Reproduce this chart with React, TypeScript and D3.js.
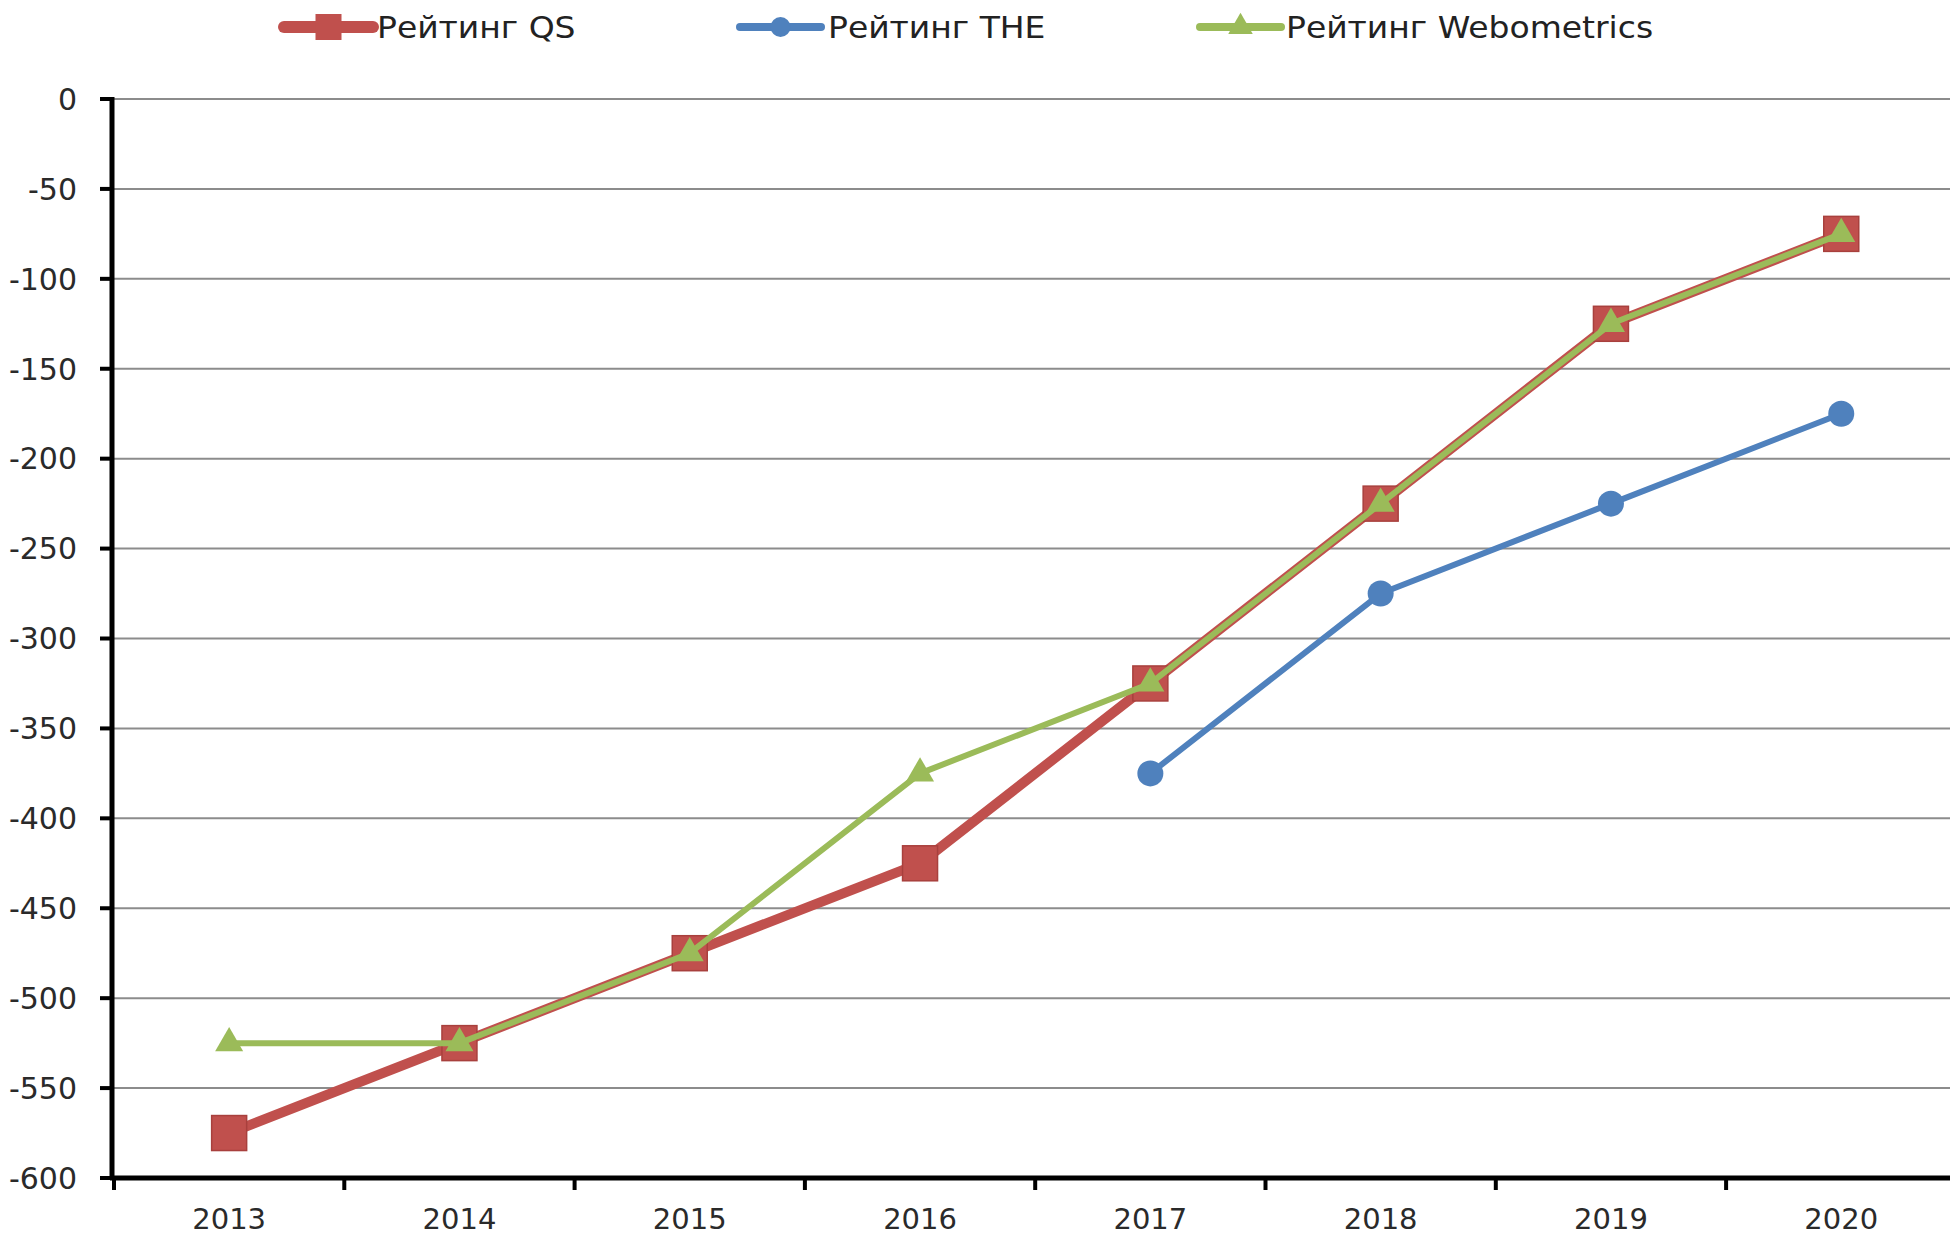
import React, { useEffect } from "react";
import * as d3 from "d3";

const years = ["2013", "2014", "2015", "2016", "2017", "2018", "2019", "2020"];
const qsValues = [-575, -525, -475, -425, -325, -225, -125, -75];
const theValues = [null, null, null, null, -375, -275, -225, -175];
const webValues = [-525, -525, -475, -375, -325, -225, -125, -75];
const yTicks = [0, -50, -100, -150, -200, -250, -300, -350, -400, -450, -500, -550, -600];

const W = 1950;
const H = 1241;
const FONT = "'DejaVu Sans', Verdana, sans-serif";

const App = () => {
  useEffect(() => {
    document.body.style.margin = "0";
  }, []);

  const margin = { top: 99, left: 112, bottom: 63 };
  const x = d3.scaleBand().domain(years).range([margin.left + 2, margin.left + 2 + 8 * 230.3]);
  const y = d3.scaleLinear().domain([-600, 0]).range([H - margin.bottom, margin.top]);
  const cx = (i) => x(years[i]) + x.bandwidth() / 2;

  const line = d3
    .line()
    .defined((d) => d != null)
    .x((d, i) => cx(i))
    .y((d) => y(d));

  const sq = 35;
  const tri = d3.symbol().type(d3.symbolTriangle).size(340);
  const triSmall = d3.symbol().type(d3.symbolTriangle).size(260);

  const legend = [
    { label: "Рейтинг QS", x0: 284, x1: 373, tx: 377, color: "#C0504D", w: 10, mark: "sq" },
    { label: "Рейтинг THE", x0: 740, x1: 821, tx: 828, color: "#4F81BD", w: 6, mark: "circ" },
    { label: "Рейтинг Webometrics", x0: 1200, x1: 1281, tx: 1286, color: "#9BBB59", w: 6, mark: "tri" },
  ];

  return (
    <svg width={W} height={H} style={{ display: "block", background: "#fff" }}>
      {/* gridlines */}
      {yTicks.map((t) => (
        <line key={t} x1={margin.left} x2={W} y1={y(t)} y2={y(t)} stroke="#8c8c8c" strokeWidth={2} />
      ))}

      {/* y axis labels + ticks */}
      {yTicks.map((t) => (
        <g key={"yl" + t}>
          <line x1={margin.left - 12} x2={margin.left} y1={y(t)} y2={y(t)} stroke="#000" strokeWidth={4} />
          <text x={77} y={y(t)} dy="0.36em" textAnchor="end" fontFamily={FONT} fontSize={30} fill="#2a2a2a">
            {t}
          </text>
        </g>
      ))}

      {/* x ticks and labels */}
      {years.map((yr, i) => (
        <g key={yr}>
          <line x1={x(yr)} x2={x(yr)} y1={y(-600)} y2={y(-600) + 12} stroke="#000" strokeWidth={4} />
          <text x={cx(i)} y={1219} dy="0.36em" textAnchor="middle" fontFamily={FONT} fontSize={29} fill="#2a2a2a">
            {yr}
          </text>
        </g>
      ))}

      {/* axes */}
      <line x1={margin.left} x2={margin.left} y1={y(0) - 2} y2={y(-600) + 2} stroke="#000" strokeWidth={5} />
      <line x1={margin.left - 2} x2={W} y1={y(-600)} y2={y(-600)} stroke="#000" strokeWidth={5} />

      {/* QS */}
      <path d={line(qsValues)} fill="none" stroke="#C0504D" strokeWidth={10} strokeLinejoin="round" />
      {qsValues.map((v, i) => (
        <rect key={"qs" + i} x={cx(i) - sq / 2} y={y(v) - sq / 2} width={sq} height={sq} fill="#C0504D" stroke="#A8403D" strokeWidth={1.5} />
      ))}

      {/* THE */}
      <path d={line(theValues)} fill="none" stroke="#4F81BD" strokeWidth={6} strokeLinejoin="round" />
      {theValues.map((v, i) =>
        v == null ? null : <circle key={"the" + i} cx={cx(i)} cy={y(v)} r={13} fill="#4F81BD" />
      )}

      {/* Webometrics */}
      <path d={line(webValues)} fill="none" stroke="#9BBB59" strokeWidth={6} strokeLinejoin="round" />
      {webValues.map((v, i) => (
        <path key={"web" + i} d={tri()} transform={`translate(${cx(i)},${y(v)})`} fill="#9BBB59" />
      ))}

      {/* legend */}
      {legend.map((l) => {
        const mx = (l.x0 + l.x1) / 2;
        const ly = 27;
        return (
          <g key={l.label}>
            <line x1={l.x0} x2={l.x1} y1={ly} y2={ly} stroke={l.color} strokeWidth={l.w + 2} strokeLinecap="round" />
            {l.mark === "sq" && <rect x={mx - 13} y={ly - 13} width={26} height={26} fill={l.color} />}
            {l.mark === "circ" && <circle cx={mx} cy={ly} r={10} fill={l.color} />}
            {l.mark === "tri" && <path d={triSmall()} transform={`translate(${mx},${ly})`} fill={l.color} />}
            <text transform={`translate(${l.tx},${ly}) scale(1.1,1)`} dy="0.36em" fontFamily={FONT} fontSize={30} fill="#222">
              {l.label}
            </text>
          </g>
        );
      })}
    </svg>
  );
};

export default App;
